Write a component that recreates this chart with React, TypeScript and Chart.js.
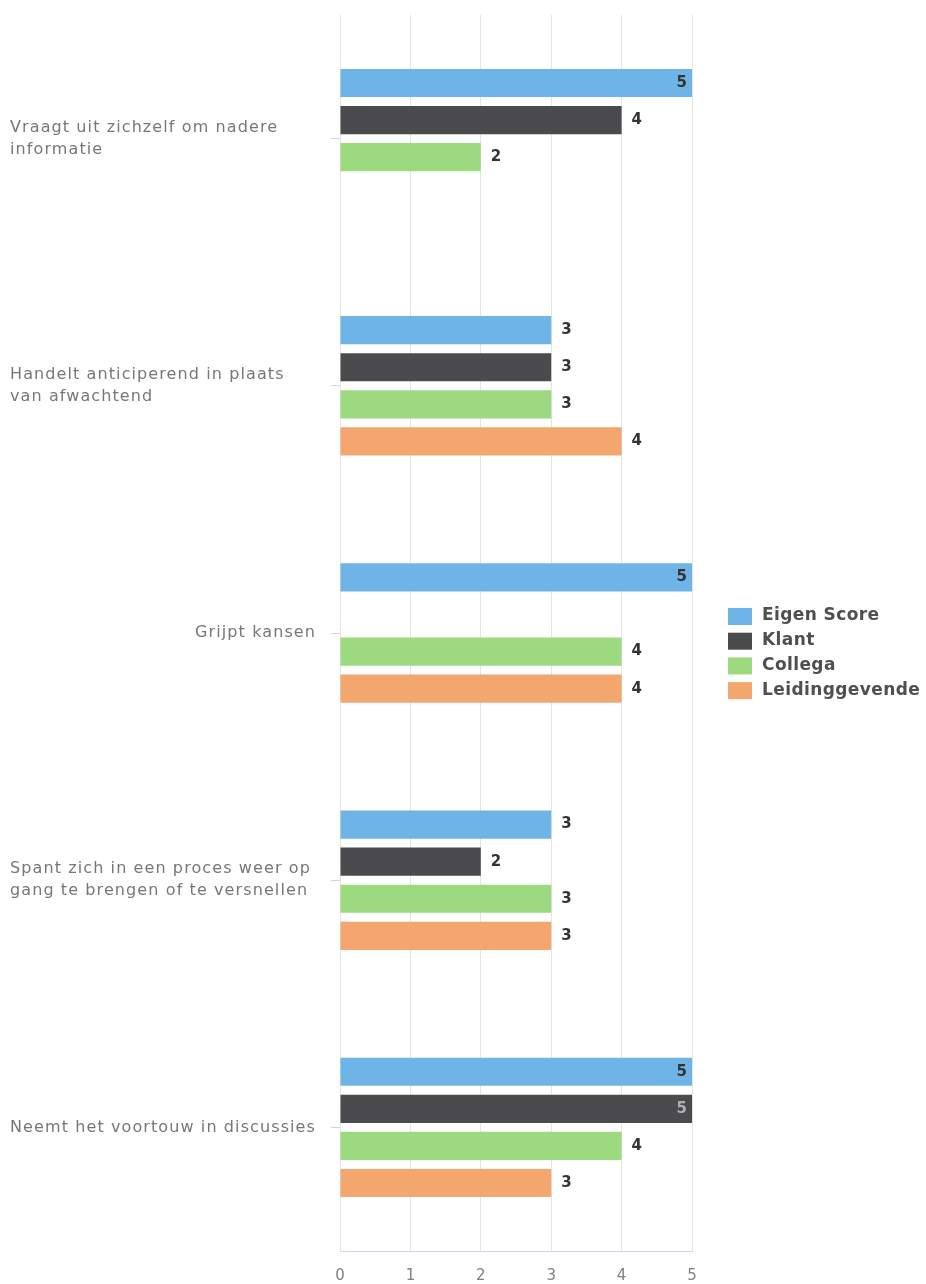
import React, { useEffect, useRef } from "react";
import { Chart, registerables } from "chart.js";

Chart.register(...registerables);

const categories: string[][] = [
  ["Vraagt uit zichzelf om nadere", "informatie"],
  ["Handelt anticiperend in plaats", "van afwachtend"],
  ["Grijpt kansen"],
  ["Spant zich in een proces weer op", "gang te brengen of te versnellen"],
  ["Neemt het voortouw in discussies"],
];
const seriesNames = ["Eigen Score", "Klant", "Collega", "Leidinggevende"];
const eigenScore = [5, 3, 5, 3, 5];
const klant = [4, 3, null, 2, 5];
const collega = [2, 3, 4, 3, 4];
const leidinggevende = [null, 4, 4, 3, 3];
const xTickValues = [0, 1, 2, 3, 4, 5];
const seriesColors = ["#6fb4e6", "#4b4b4e", "#9cd97f", "#f3a66e"];

const FONT = "'DejaVu Sans', sans-serif";

const yLabelPlugin = {
  id: "yLabels",
  afterDraw(chart: any) {
    const ctx = chart.ctx;
    const y = chart.scales.y;
    ctx.save();
    ctx.font = `16px ${FONT}`;
    (ctx as any).letterSpacing = "1.1px";
    ctx.fillStyle = "#777777";
    ctx.textBaseline = "middle";
    categories.forEach((lines, i) => {
      const py = y.getPixelForValue(i);
      const lh = 22;
      const start = py - ((lines.length - 1) * lh) / 2;
      lines.forEach((ln, j) => {
        if (lines.length > 1) {
          ctx.textAlign = "left";
          ctx.fillText(ln, 10, start + j * lh);
        } else {
          ctx.textAlign = "right";
          ctx.fillText(ln, 316, start + j * lh);
        }
      });
    });
    ctx.restore();
  },
};

const dataLabelPlugin = {
  id: "dataLabels",
  afterDatasetsDraw(chart: any) {
    const ctx = chart.ctx;
    const xMax = chart.scales.x.max;
    ctx.save();
    ctx.font = `bold 15px ${FONT}`;
    ctx.textBaseline = "middle";
    chart.data.datasets.forEach((ds: any, di: number) => {
      const meta = chart.getDatasetMeta(di);
      meta.data.forEach((el: any, i: number) => {
        const v = ds.data[i];
        if (v === null || v === undefined) return;
        if (v >= xMax) {
          ctx.textAlign = "right";
          ctx.fillStyle = di === 1 ? "#b0b0b0" : "#333333";
          ctx.fillText(String(v), el.x - 5, el.y);
        } else {
          ctx.textAlign = "left";
          ctx.fillStyle = "#333333";
          ctx.fillText(String(v), el.x + 10, el.y);
        }
      });
    });
    ctx.restore();
  },
};

const legendPlugin = {
  id: "customLegend",
  afterDraw(chart: any) {
    const ctx = chart.ctx;
    ctx.save();
    ctx.font = `bold 17px ${FONT}`;
    (ctx as any).letterSpacing = "0.4px";
    ctx.textBaseline = "middle";
    ctx.textAlign = "left";
    const x0 = 728;
    const y0 = 616;
    const step = 24.7;
    chart.data.datasets.forEach((ds: any, i: number) => {
      const cy = y0 + i * step;
      ctx.fillStyle = ds.backgroundColor;
      ctx.fillRect(x0, cy - 8, 24, 17);
      ctx.fillStyle = "#4f4f4f";
      ctx.fillText(ds.label, x0 + 34, cy);
    });
    ctx.restore();
  },
};

export default function App() {
  const ref = useRef<HTMLCanvasElement | null>(null);
  useEffect(() => {
    if (!ref.current) return;
    const seriesData = [eigenScore, klant, collega, leidinggevende];
    const chart = new Chart(ref.current, {
      type: "bar",
      data: {
        labels: categories,
        datasets: seriesNames.map((name, i) => ({
          label: name,
          data: seriesData[i],
          backgroundColor: seriesColors[i],
          categoryPercentage: 0.6,
          barPercentage: 0.76,
        })),
      },
      options: {
        indexAxis: "y",
        animation: false,
        responsive: true,
        maintainAspectRatio: false,
        layout: { padding: { top: 15, right: 234, left: 0, bottom: 0 } },
        plugins: { legend: { display: false }, tooltip: { enabled: false } },
        scales: {
          x: {
            min: 0,
            max: 5,
            afterBuildTicks: (scale: any) => {
              scale.ticks = xTickValues.map((v) => ({ value: v }));
            },
            afterFit: (scale: any) => {
              scale.height = 33;
            },
            grid: { color: "#e4e4e4", drawTicks: false },
            border: { color: "#ccd6eb" },
            ticks: {
              font: { family: FONT, size: 15 },
              color: "#808080",
              padding: 16,
            },
          },
          y: {
            afterFit: (scale: any) => {
              scale.width = 340;
            },
            grid: {
              drawOnChartArea: false,
              drawTicks: true,
              tickLength: 9,
              offset: false,
              color: "#ccd6eb",
            },
            border: { display: false },
            ticks: { display: false },
          },
        },
      },
      plugins: [yLabelPlugin, dataLabelPlugin, legendPlugin],
    });
    return () => chart.destroy();
  }, []);
  return (
    <div style={{ position: "fixed", left: 0, top: 0, width: 926, height: 1284, background: "#fff" }}>
      <canvas ref={ref} />
    </div>
  );
}
